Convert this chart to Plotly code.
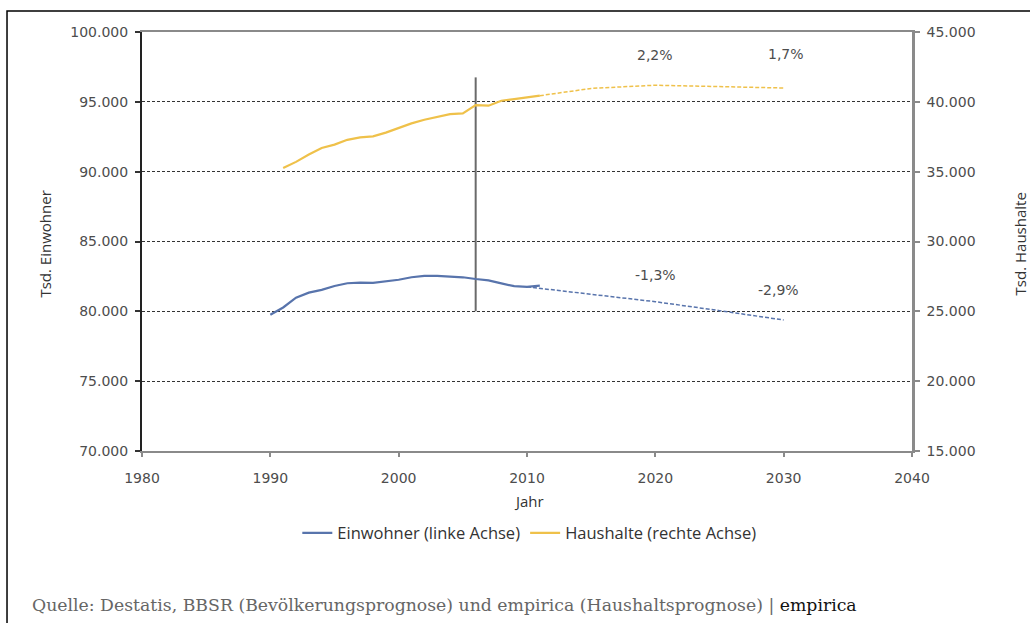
import plotly.graph_objects as go

# ---- data ----
years_ew = [1990, 1991, 1992, 1993, 1994, 1995, 1996, 1997, 1998, 1999, 2000,
            2001, 2002, 2003, 2004, 2005, 2006, 2007, 2008, 2009, 2010, 2011]
einwohner = [79753, 80275, 80975, 81338, 81539, 81817, 82012, 82057, 82037, 82163, 82260,
             82440, 82537, 82532, 82501, 82438, 82315, 82218, 82002, 81802, 81752, 81844]

years_ew_prog = [2010, 2015, 2020, 2025, 2030]
einwohner_prog = [81752, 81220, 80690, 80050, 79380]

years_hh = [1991, 1992, 1993, 1994, 1995, 1996, 1997, 1998, 1999, 2000, 2001,
            2002, 2003, 2004, 2005, 2006, 2007, 2008, 2009, 2010, 2011]
haushalte = [35256, 35700, 36230, 36695, 36938, 37281, 37457, 37532, 37795, 38124, 38456,
             38720, 38944, 39122, 39178, 39767, 39722, 40076, 40188, 40301, 40439]

years_hh_prog = [2011, 2015, 2020, 2025, 2030]
haushalte_prog = [40439, 40960, 41190, 41090, 40990]

vline_year = [2006, 2006]
vline_vals = [80000, 96750]

pct_labels_hh = ["2,2%", "1,7%"]
pct_x_hh = [2020, 2030.2]
pct_y_hh = [43370, 43420]
pct_labels_ew = ["-1,3%", "-2,9%"]
pct_x_ew = [2020, 2029.6]
pct_y_ew = [82600, 81530]

x_ticks = [1980, 1990, 2000, 2010, 2020, 2030, 2040]
y_left_ticks = [70000, 75000, 80000, 85000, 90000, 95000, 100000]
y_right_ticks = [15000, 20000, 25000, 30000, 35000, 40000, 45000]

BLUE = "#5874ac"
YELLOW = "#efc14a"
TICKFONT = dict(family="DejaVu Sans", size=14, color="#4d4d4d")
TITLEFONT = dict(family="Open Sans", size=15, color="#333333")
LEGENDFONT = dict(family="Open Sans", size=16.5, color="#333333")

fig = go.Figure()

fig.add_trace(go.Scatter(x=vline_year, y=vline_vals, mode="lines",
                         line=dict(color="#6a6a6a", width=2), showlegend=False,
                         hoverinfo="skip"))
fig.add_trace(go.Scatter(x=years_ew_prog, y=einwohner_prog, mode="lines",
                         line=dict(color=BLUE, width=1.5, dash="4px,2px"),
                         showlegend=False))
fig.add_trace(go.Scatter(x=years_ew, y=einwohner, mode="lines",
                         name="Einwohner (linke Achse)",
                         line=dict(color=BLUE, width=2.2)))
fig.add_trace(go.Scatter(x=years_hh_prog, y=haushalte_prog, mode="lines",
                         line=dict(color=YELLOW, width=1.5, dash="4px,2px"),
                         showlegend=False, yaxis="y2"))
fig.add_trace(go.Scatter(x=years_hh, y=haushalte, mode="lines",
                         name="Haushalte (rechte Achse)",
                         line=dict(color=YELLOW, width=2.2), yaxis="y2"))

annotations = []
for t, x, y in zip(pct_labels_hh, pct_x_hh, pct_y_hh):
    annotations.append(dict(x=x, y=y, xref="x", yref="y2", text=t, showarrow=False,
                            font=TICKFONT))
for t, x, y in zip(pct_labels_ew, pct_x_ew, pct_y_ew):
    annotations.append(dict(x=x, y=y, xref="x", yref="y", text=t, showarrow=False,
                            font=TICKFONT))

# axis titles
annotations.append(dict(x=-0.126, y=0.495, xref="paper", yref="paper",
                        xanchor="center", yanchor="middle",
                        text="Tsd. Einwohner", textangle=-90, showarrow=False,
                        font=TITLEFONT))
annotations.append(dict(x=1.14, y=0.495, xref="paper", yref="paper",
                        xanchor="center", yanchor="middle",
                        text="Tsd. Haushalte", textangle=-90, showarrow=False,
                        font=TITLEFONT))
annotations.append(dict(x=0.503, y=-0.119, xref="paper", yref="paper",
                        xanchor="center", yanchor="middle",
                        text="Jahr", showarrow=False, font=TITLEFONT))
# source line
annotations.append(dict(x=-0.146, y=-0.368, xref="paper", yref="paper",
                        xanchor="left", yanchor="middle",
                        text="Quelle: Destatis, BBSR (Bevölkerungsprognose) und empirica (Haushaltsprognose) | "
                             "<span style='color:#111111'>empirica</span>",
                        showarrow=False,
                        font=dict(family="DejaVu Serif", size=17.3, color="#666666")))

fig.update_layout(
    width=1030, height=623,
    margin=dict(l=142, r=118, t=32, b=172),
    paper_bgcolor="white", plot_bgcolor="white",
    separators=",.",
    showlegend=True,
    legend=dict(orientation="h", x=0.503, xanchor="center", y=-0.196, yanchor="middle",
                font=LEGENDFONT, bgcolor="rgba(0,0,0,0)", itemwidth=30,
                traceorder="normal"),
    xaxis=dict(range=[1980, 2040], tickvals=x_ticks, showgrid=False, zeroline=False,
               showline=True, linecolor="#8a8a8a", linewidth=2, mirror=True,
               ticks="outside", ticklen=4, tickcolor="#8a8a8a", tickwidth=2,
               tickfont=TICKFONT, ticklabelstandoff=9),
    yaxis=dict(range=[70000, 100000], tickvals=y_left_ticks, tickformat=",d",
               showgrid=True, gridcolor="#333333", griddash="3px,2px", gridwidth=1,
               zeroline=False, showline=True, linecolor="#222222", linewidth=2,
               ticks="outside", ticklen=5, tickcolor="#333333", tickwidth=1.5,
               tickfont=TICKFONT, ticklabelstandoff=4),
    yaxis2=dict(range=[15000, 45000], tickvals=y_right_ticks, tickformat=",d",
                overlaying="y", side="right", showgrid=False, zeroline=False,
                showline=True, linecolor="#8a8a8a", linewidth=2.5,
                ticks="outside", ticklen=5, tickcolor="#8a8a8a", tickwidth=1.5,
                tickfont=TICKFONT, ticklabelstandoff=4),
    annotations=annotations,
    shapes=[dict(type="rect", xref="paper", yref="paper",
                 x0=-0.1753, y0=1.050, x1=1.17, y1=-0.45,
                 line=dict(color="black", width=1.5), layer="below")],
)

fig.write_html("out.html",
               config={"displayModeBar": False},
               post_script="document.body.style.margin='0';document.body.style.overflow='hidden';")
